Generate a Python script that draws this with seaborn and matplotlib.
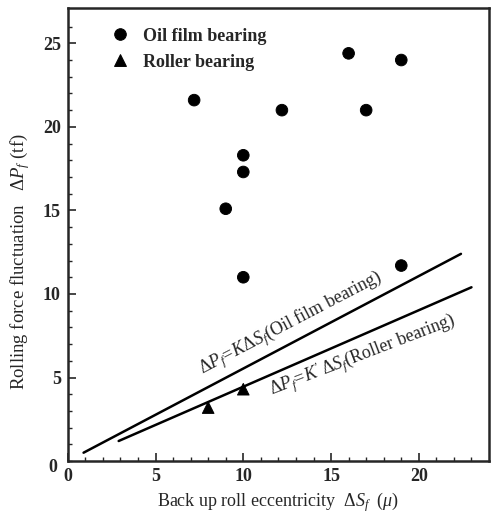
import matplotlib
matplotlib.use("Agg")
import matplotlib.pyplot as plt
import seaborn as sns
import pandas as pd
import numpy as np

# oil film bearing points
oil_x = [7.2, 9.0, 10.0, 10.0, 10.0, 12.2, 16.0, 17.0, 19.0, 19.0]
oil_y = [21.6, 15.1, 18.3, 17.3, 11.0, 21.0, 24.4, 21.0, 24.0, 11.7]
# roller bearing points
roll_x = [8.0, 10.0]
roll_y = [3.2, 4.3]
# fitted lines (end points)
oil_line_x = [0.9, 22.4]
oil_line_y = [0.5, 12.4]
roll_line_x = [2.9, 23.0]
roll_line_y = [1.2, 10.4]

sns.set_style("ticks")
plt.rcParams['font.family'] = ['Liberation Serif', 'DejaVu Serif']
plt.rcParams['mathtext.fontset'] = 'custom'
plt.rcParams['mathtext.rm'] = 'Liberation Serif'
plt.rcParams['mathtext.it'] = 'Liberation Serif:italic'
plt.rcParams['mathtext.bf'] = 'Liberation Serif:bold'

df = pd.DataFrame({
    "x": oil_x + roll_x,
    "y": oil_y + roll_y,
    "kind": ["Oil film bearing"] * len(oil_x) + ["Roller bearing"] * len(roll_x),
})

fig = plt.figure(figsize=(4.91, 5.14), dpi=100)
ax = fig.add_axes([0.138, 0.103, 0.858, 0.881])

sns.scatterplot(data=df, x="x", y="y", style="kind", markers={"Oil film bearing": "o", "Roller bearing": "^"},
                color="black", s=70, edgecolor="black", ax=ax, legend=True)
sns.lineplot(x=oil_line_x, y=oil_line_y, color="black", lw=1.8, ax=ax)
sns.lineplot(x=roll_line_x, y=roll_line_y, color="black", lw=1.8, ax=ax)

ax.set_xlim(0, 24)
ax.set_ylim(0, 27.1)
ax.set_xticks([0, 5, 10, 15, 20])
ax.set_yticks([5, 10, 15, 20, 25])
ax.set_xticks(np.arange(0, 24, 1), minor=True)
ax.set_yticks(np.arange(0, 27, 1), minor=True)
ax.tick_params(direction="in", length=6, width=1.2, labelsize=13, pad=5)
ax.tick_params(which="minor", direction="in", length=3, width=1)
for lab in ax.get_xticklabels() + ax.get_yticklabels():
    lab.set_fontweight("bold")
for sp in ax.spines.values():
    sp.set_linewidth(1.8)

ax.text(-0.6, -0.4, "0", fontsize=13, fontweight="bold", ha="right", va="center")

ax.set_xlabel(r"Back up roll eccentricity  $\Delta S_f$  ($\mu$)", fontsize=13, labelpad=4)
ax.set_ylabel(r"Rolling force fluctuation   $\Delta P_f$ (tf)", fontsize=13.5)
ax.yaxis.set_label_coords(-0.085, 0.44)

leg = ax.legend(loc="upper left", bbox_to_anchor=(0.05, 0.985), frameon=False,
                prop={"size": 13, "weight": "bold"},
                handletextpad=0.3, borderaxespad=0.3, labelspacing=0.5)
leg.set_title(None)

ax.text(7.9, 4.8, r"$\Delta P_f\!=\!K\Delta S_f$(Oil film bearing)", fontsize=13,
        rotation=27.5, rotation_mode="anchor", ha="left", va="bottom")
ax.text(11.8, 3.5, r"$\Delta P_f\!=\!K'\,\Delta S_f$(Roller bearing)", fontsize=13,
        rotation=21, rotation_mode="anchor", ha="left", va="bottom")

fig.savefig("out.png", dpi=100)
